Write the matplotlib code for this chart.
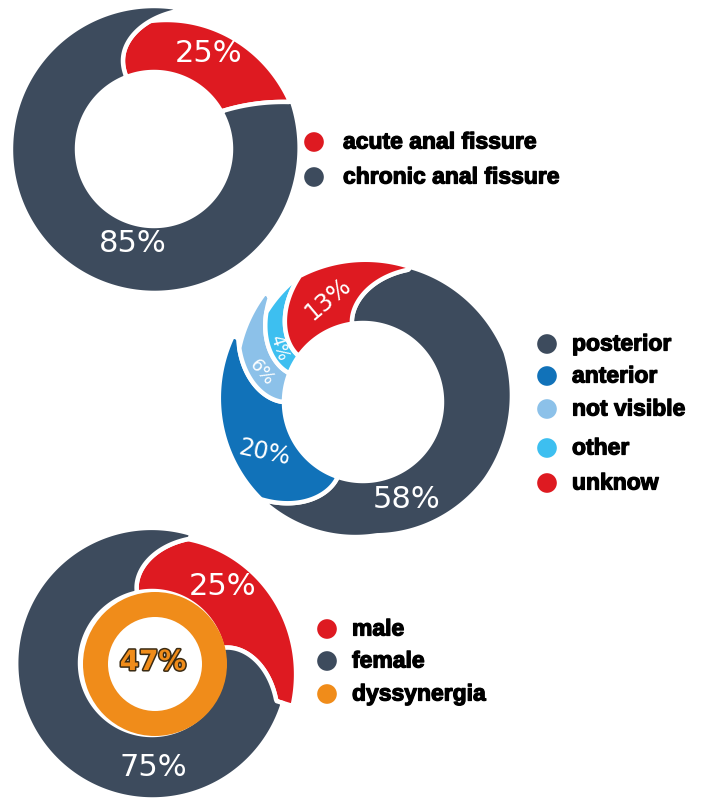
import numpy as np
import matplotlib
matplotlib.use("Agg")
import matplotlib.pyplot as plt
from matplotlib.patches import Polygon, Wedge
import matplotlib.patheffects as pe

# ---------------- data ----------------
fissure_labels = ["acute anal fissure", "chronic anal fissure"]
fissure_values = [25, 85]
location_labels = ["posterior", "anterior", "not visible", "other", "unknow"]
location_values = [58, 20, 6, 4, 13]
gender_labels = ["male", "female"]
gender_values = [25, 75]
dyssynergia_label = "dyssynergia"
dyssynergia_value = 47

# ---------------- style ----------------
DARK = "#3d4b5d"
RED = "#de1a21"
BLUE = "#1172b9"
LIGHT = "#8cc1e9"
SKY = "#3dbff0"
ORANGE = "#f08c1a"

fissure_colors = [RED, DARK]
location_colors = [DARK, BLUE, LIGHT, SKY, RED]
gender_colors = [RED, DARK]

W, H = 702, 803
fig = plt.figure(figsize=(W / 100, H / 100), dpi=100)
ax = fig.add_axes([0, 0, 1, 1])
ax.set_xlim(0, W)
ax.set_ylim(H, 0)
ax.set_aspect("equal")
ax.axis("off")


def pt(cx, cy, r, ang):
    t = np.deg2rad(ang)
    return cx + r * np.sin(t), cy - r * np.cos(t)


def swirl_segment(cx, cy, ri, a0, a1, outer, b0, b1, rref, color, lw=3.2):
    """outer = outer-radius profile from start to end of the segment;
    b0/b1 = (lean, power) of the start / end boundary."""
    def bang(a, r, b):
        s = min(max((r - ri) / (rref - ri), 0.0), 1.0)
        return a + b[0] * s ** b[1]

    ro0, ro1 = outer[0], outer[-1]
    prof_t = np.linspace(0, 1, len(outer))
    pts = [pt(cx, cy, ri, a) for a in np.linspace(a0, a1, 160)]
    pts += [pt(cx, cy, r, bang(a1, r, b1)) for r in np.linspace(ri, ro1, 60)]
    o1, o0 = bang(a1, ro1, b1), bang(a0, ro0, b0)
    for t in np.linspace(0, 1, 240):
        r = np.interp(1 - t, prof_t, outer)
        pts.append(pt(cx, cy, r, o1 + (o0 - o1) * t))
    pts += [pt(cx, cy, r, bang(a0, r, b0)) for r in np.linspace(ro0, ri, 60)]
    ax.add_patch(Polygon(pts, closed=True, facecolor=color, edgecolor="white",
                         linewidth=lw, joinstyle="round"))


def swirl_donut(values, colors, cx, cy, ri, start, outer, bounds, rref):
    total = float(sum(values))
    a = start
    n = len(values)
    for i, (v, c, prof) in enumerate(zip(values, colors, outer)):
        span = 360.0 * v / total
        swirl_segment(cx, cy, ri, a, a + span, prof,
                      bounds[i], bounds[(i + 1) % n], rref, c)
        a += span


# chart 1: fissure type
swirl_donut(fissure_values, fissure_colors, 154, 150, 77, -21,
            [(128, 144), (146, 144, 143, 143)], [(34, 2.2), (10, 1.0)], 143)
# chart 2: location
swirl_donut(location_values, location_colors, 363, 403, 79, -8,
            [(143, 151, 145, 134, 141), (141, 146), (135, 147), (132, 141), (141, 143)],
            [(27, 1.6)] * 5, 140)
# chart 3: gender
swirl_donut(gender_values, gender_colors, 152, 664, 72, -12,
            [(129, 147), (137, 135)], [(29, 1.7), (29, 1.7)], 130)
# dyssynergia ring
ax.add_patch(Wedge((155, 665), 72, 0, 360, width=25, facecolor=ORANGE,
                   edgecolor="none"))

# ---------------- labels ----------------
lab = dict(color="white", ha="center", va="center", family="DejaVu Sans")
ax.text(209, 53, f"{fissure_values[0]}%", fontsize=22, **lab)
ax.text(133, 243, f"{fissure_values[1]}%", fontsize=22, **lab)

loc_label_pos = [(407, 500, 0, 22), (264, 453, -12, 17), (262, 373, -50, 13),
                 (279, 348, -72, 12), (328, 299, 40, 17)]
for v, (x, y, rot, fs) in zip(location_values, loc_label_pos):
    ax.text(x, y, f"{v}%", fontsize=fs, rotation=rot, rotation_mode="anchor", **lab)

ax.text(223, 587, f"{gender_values[0]}%", fontsize=22, **lab)
ax.text(153, 768, f"{gender_values[1]}%", fontsize=22, **lab)
ax.text(153, 663, f"{dyssynergia_value}%", fontsize=20, fontweight="bold",
        color=ORANGE, ha="center", va="center", family="DejaVu Sans",
        path_effects=[pe.Stroke(linewidth=2.2, foreground="#3a2b14"), pe.Normal()])

# ---------------- legends ----------------
leg_font = dict(fontsize=16.5, fontweight="bold", family="Liberation Sans",
                color="black", ha="left", va="center",
                path_effects=[pe.withStroke(linewidth=0.9, foreground="black")])


def legend(labels, colors, mx, tx, ys):
    ax.scatter([mx] * len(ys), ys, s=200, c=colors, edgecolors="none")
    for lbl, y in zip(labels, ys):
        ax.text(tx, y, lbl, **leg_font)


legend(fissure_labels, fissure_colors, 314, 343, [143, 178])
legend(location_labels, location_colors, 547, 572, [345, 377, 410, 449, 484])
legend(gender_labels + [dyssynergia_label], gender_colors + [ORANGE], 327, 352,
       [630, 662, 695])

fig.savefig("out.png", dpi=100)
